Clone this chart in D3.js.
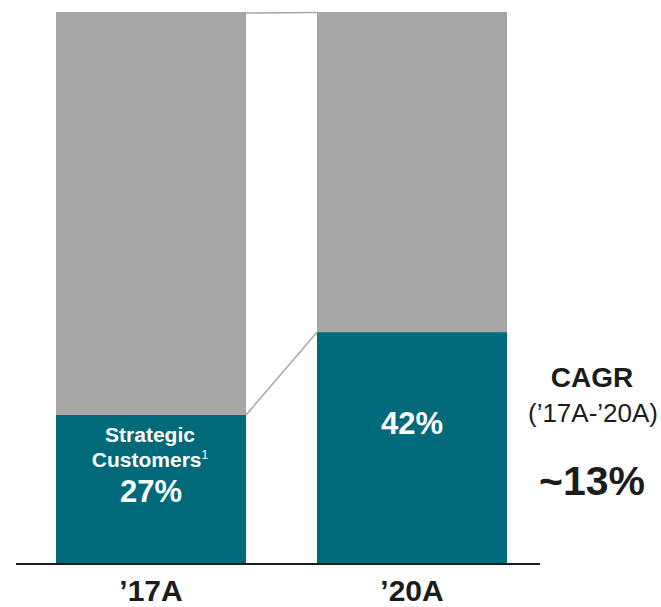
<!DOCTYPE html>
<html>
<head>
<meta charset="utf-8">
<script src="https://cdn.jsdelivr.net/npm/d3@7"></script>
<style>
  html, body { margin: 0; padding: 0; background: #fff; }
  svg { display: block; font-family: "Liberation Sans", Arial, Helvetica, sans-serif; }
</style>
</head>
<body>
<svg id="chart" width="661" height="607"></svg>
<script>
// Share of revenue from strategic customers, by year
const years = ["\u201917A", "\u201920A"];
const strategicShare = [27, 42];
const shareLabels = ["27%", "42%"];
const totalShare = 100;

const cagrTitle = "CAGR";
const cagrPeriod = "(\u201917A-\u201920A)";
const cagrValue = "~13%";

const teal = "#00697A";
const grey = "#A6A6A6";
const ink = "#1c1c1c";

const svg = d3.select("#chart");
const baseY = 564, topY = 12;

// two 190px bars with a 71px gap
const x = d3.scaleBand()
  .domain(years)
  .range([56, 507])
  .paddingInner(71 / 261)
  .paddingOuter(0);

const y = d3.scaleLinear().domain([0, totalShare]).range([baseY, topY]);

const rows = years.map((yr, i) => ({ year: yr, share: strategicShare[i], label: shareLabels[i] }));

// grey remainder (top part of each 100% bar)
svg.selectAll("rect.rest").data(rows).join("rect")
  .attr("class", "rest")
  .attr("x", d => x(d.year))
  .attr("width", x.bandwidth())
  .attr("y", y(totalShare))
  .attr("height", d => y(d.share) - y(totalShare))
  .attr("fill", grey);

// teal strategic-customer segment
svg.selectAll("rect.strat").data(rows).join("rect")
  .attr("class", "strat")
  .attr("x", d => x(d.year))
  .attr("width", x.bandwidth())
  .attr("y", d => y(d.share))
  .attr("height", d => y(0) - y(d.share))
  .attr("fill", teal);

// connector lines between the bars
const a = rows[0], b = rows[1];
const x0 = x(a.year) + x.bandwidth(), x1 = x(b.year);
svg.append("line")
  .attr("x1", x0).attr("y1", y(totalShare) + 1)
  .attr("x2", x1).attr("y2", y(totalShare) + 0.5)
  .attr("stroke", grey).attr("stroke-width", 1.5);
svg.append("line")
  .attr("x1", x0).attr("y1", y(a.share))
  .attr("x2", x1).attr("y2", y(b.share))
  .attr("stroke", grey).attr("stroke-width", 1.5);

// baseline axis with year labels
const axis = d3.axisBottom(x).tickSize(0).tickPadding(0);
const gAxis = svg.append("g").attr("transform", `translate(0,${baseY})`).call(axis);
gAxis.select(".domain").remove();
gAxis.selectAll(".tick text")
  .attr("y", 37)
  .attr("dy", null)
  .attr("fill", ink)
  .style("font-size", "30px")
  .style("font-weight", "bold")
  .style("font-family", "'Liberation Sans', Arial, sans-serif");
svg.append("line")
  .attr("x1", 16).attr("x2", 540)
  .attr("y1", baseY).attr("y2", baseY)
  .attr("stroke", ink).attr("stroke-width", 2.2);

// labels inside the teal segments
const cx = d => x(d) + x.bandwidth() / 2;
const t1 = svg.append("text")
  .attr("text-anchor", "middle")
  .attr("fill", "#fff")
  .attr("font-weight", "bold");
t1.append("tspan").attr("x", cx(a.year) - 1).attr("y", 442)
  .attr("font-size", 21).text("Strategic");
const cust = t1.append("tspan").attr("x", cx(a.year) - 1).attr("y", 467)
  .attr("font-size", 21).text("Customers");
cust.append("tspan").attr("font-size", 12).attr("font-weight", "normal")
  .attr("dy", -8).text("1");
t1.append("tspan").attr("x", cx(a.year)).attr("y", 502)
  .attr("font-size", 31).text(a.label);

svg.append("text")
  .attr("x", cx(b.year)).attr("y", 434)
  .attr("text-anchor", "middle")
  .attr("fill", "#fff")
  .attr("font-weight", "bold")
  .attr("font-size", 31)
  .text(b.label);

// CAGR callout on the right
svg.append("text")
  .attr("x", 592).attr("y", 387)
  .attr("text-anchor", "middle").attr("fill", ink)
  .attr("font-weight", "bold").attr("font-size", 28)
  .text(cagrTitle);
svg.append("text")
  .attr("x", 593).attr("y", 422)
  .attr("text-anchor", "middle").attr("fill", ink)
  .attr("font-size", 26)
  .text(cagrPeriod);
svg.append("text")
  .attr("x", 592).attr("y", 495)
  .attr("text-anchor", "middle").attr("fill", ink)
  .attr("font-weight", "bold").attr("font-size", 41)
  .text(cagrValue);
</script>
</body>
</html>
